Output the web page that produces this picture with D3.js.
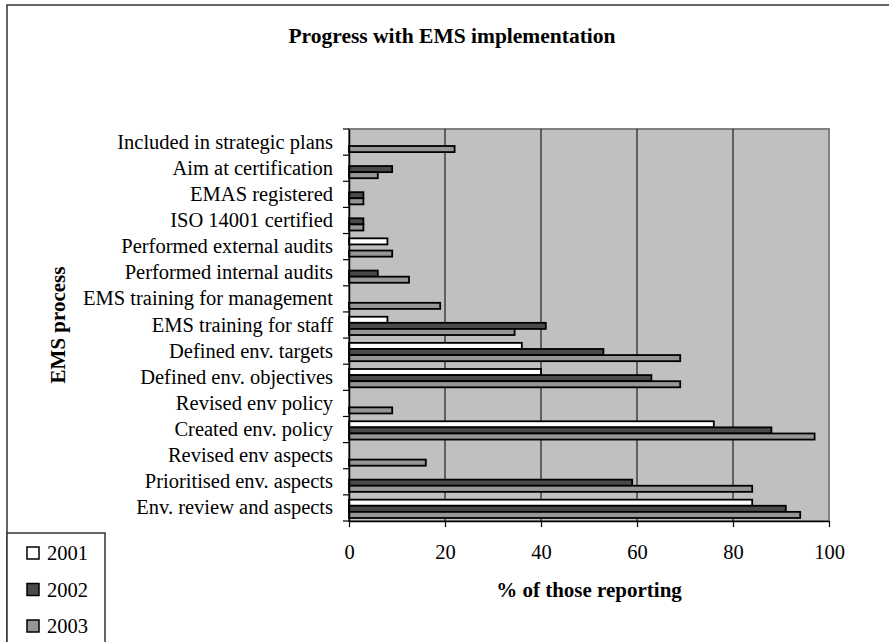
<!DOCTYPE html>
<html>
<head>
<meta charset="utf-8">
<script src="https://cdn.jsdelivr.net/npm/d3@7"></script>
<style>
  body { margin: 0; background: #fff; }
  svg text { font-family: "Liberation Serif", "Times New Roman", Times, serif !important; fill: #000; }
</style>
</head>
<body>
<svg id="chart"></svg>
<script>
// categories, top to bottom as drawn
var categories = [
  "Included in strategic plans",
  "Aim at certification",
  "EMAS registered",
  "ISO 14001 certified",
  "Performed external audits",
  "Performed internal audits",
  "EMS training for management",
  "EMS training for staff",
  "Defined env. targets ",
  "Defined env. objectives",
  "Revised env policy",
  "Created env. policy",
  "Revised env aspects",
  "Prioritised env. aspects",
  "Env. review and aspects"
]
var years = ["2001", "2002", "2003"]
// % of those reporting (null = no bar)
var values2001 = [null, null, null, null, 8, null, null, 8, 36, 40, null, 76, null, null, 84]
var values2002 = [null, 9, 3, 3, null, 6, null, 41, 53, 63, null, 88, null, 59, 91]
var values2003 = [22, 6, 3, 3, 9, 12.5, 19, 34.5, 69, 69, 9, 97, 16, 84, 94]
var xTicks = [0, 20, 40, 60, 80, 100]

var width = 889
var height = 642
var plot = {left: 349, right: 829, top: 129, bottom: 521}
var colors = {"2001": "#ffffff", "2002": "#4a4a4a", "2003": "#969696"}
var serif = "'Liberation Serif', 'Times New Roman', Times, serif"

var series = {"2001": values2001, "2002": values2002, "2003": values2003}

var svg = d3.select("#chart").attr("width", width).attr("height", height)
  .attr("font-family", serif)

// outer chart frame
svg.append("rect")
  .attr("x", 7).attr("y", 5)
  .attr("width", 950).attr("height", 700)
  .attr("fill", "#fff").attr("stroke", "#333").attr("stroke-width", 1.5)

var x = d3.scaleLinear().domain([0, 100]).range([plot.left, plot.right])
var y = d3.scaleBand().domain(categories).range([plot.top, plot.bottom]).paddingInner(0)
var yInner = d3.scaleBand().domain(years).range([4.8, 23.1])

// plot area
svg.append("rect")
  .attr("x", plot.left).attr("y", plot.top)
  .attr("width", plot.right - plot.left).attr("height", plot.bottom - plot.top)
  .attr("fill", "#c0c0c0").attr("stroke", "#808080").attr("stroke-width", 2)

// gridlines
svg.append("g").selectAll("line")
  .data(xTicks.filter(t => t > 0 && t < 100))
  .enter().append("line")
  .attr("x1", d => x(d)).attr("x2", d => x(d))
  .attr("y1", plot.top).attr("y2", plot.bottom)
  .attr("stroke", "#000").attr("stroke-width", 1)

// bars
var barData = []
categories.forEach((c, i) => {
  years.forEach(yr => {
    var v = series[yr][i]
    if (v !== null) barData.push({cat: c, year: yr, value: v})
  })
})

svg.append("g").selectAll("rect")
  .data(barData)
  .enter().append("rect")
  .attr("x", x(0))
  .attr("y", d => y(d.cat) + yInner(d.year))
  .attr("width", d => x(d.value) - x(0))
  .attr("height", yInner.bandwidth())
  .attr("fill", d => colors[d.year])
  .attr("stroke", "#000").attr("stroke-width", 1.8)

// x axis
var xAxis = d3.axisBottom(x).tickValues(xTicks).tickSize(6).tickSizeOuter(0).tickPadding(17)
var gx = svg.append("g")
  .attr("transform", `translate(0,${plot.bottom})`)
  .call(xAxis)
  .attr("font-family", serif).attr("font-size", null)
gx.select(".domain").attr("stroke", "#000").attr("stroke-width", 1.5)
gx.selectAll(".tick line").attr("stroke", "#000").attr("stroke-width", 1.2)
gx.selectAll("text").style("font-size", "20.5px").style("font-family", serif)

// y axis labels (centered in bands), ticks at band boundaries
var yAxis = d3.axisLeft(y).tickSize(0).tickPadding(16)
var gy = svg.append("g")
  .attr("transform", `translate(${plot.left},0)`)
  .call(yAxis)
  .attr("font-family", serif).attr("font-size", null)
gy.select(".domain").attr("stroke", "#000").attr("stroke-width", 1.5)
gy.selectAll("text").style("font-size", "20.5px").style("font-family", serif)

svg.append("g").selectAll("line")
  .data(d3.range(categories.length + 1))
  .enter().append("line")
  .attr("x1", plot.left - 6).attr("x2", plot.left)
  .attr("y1", i => plot.top + i * y.step())
  .attr("y2", i => plot.top + i * y.step())
  .attr("stroke", "#000").attr("stroke-width", 1.2)

// titles
svg.append("text")
  .attr("x", 452).attr("y", 43)
  .attr("text-anchor", "middle")
  .style("font-size", "21.5px").style("font-weight", "bold")
  .text("Progress with EMS implementation")

svg.append("text")
  .attr("x", (plot.left + plot.right) / 2).attr("y", 597)
  .attr("text-anchor", "middle")
  .style("font-size", "21px").style("font-weight", "bold")
  .text("% of those reporting")

svg.append("text")
  .attr("transform", `translate(65,${(plot.top + plot.bottom) / 2}) rotate(-90)`)
  .attr("text-anchor", "middle")
  .style("font-size", "21px").style("font-weight", "bold")
  .text("EMS process")

// legend
var legend = svg.append("g")
legend.append("rect")
  .attr("x", 7).attr("y", 533)
  .attr("width", 98).attr("height", 150)
  .attr("fill", "#fff").attr("stroke", "#333").attr("stroke-width", 1.5)

var items = legend.selectAll(".item")
  .data(years)
  .enter().append("g")
  .attr("transform", (d, i) => `translate(27,${553 + i * 36.5})`)
items.append("rect")
  .attr("x", 0).attr("y", -6)
  .attr("width", 12).attr("height", 12)
  .attr("fill", d => colors[d])
  .attr("stroke", "#000").attr("stroke-width", 1.5)
items.append("text")
  .attr("x", 20).attr("y", 7)
  .style("font-size", "20.5px").style("font-family", serif)
  .text(d => d)
</script>
</body>
</html>
